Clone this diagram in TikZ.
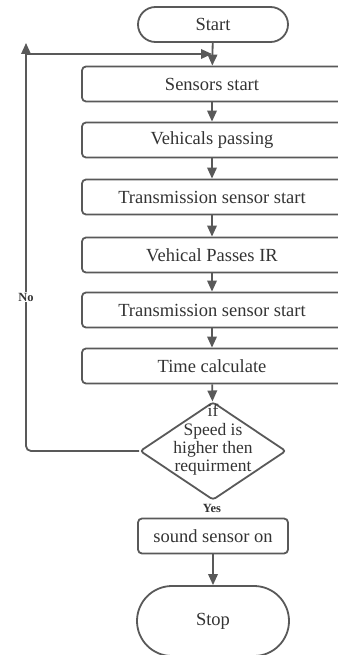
\documentclass[tikz,border=0pt]{standalone}
\usepackage{fontspec}
\setmainfont{Liberation Serif}
\usetikzlibrary{arrows.meta,shapes.geometric}

\definecolor{linegray}{HTML}{595959}
\definecolor{textgray}{HTML}{333333}

\tikzset{
    process/.style={draw=linegray, line width=1.8pt, rounded corners=4pt,
        minimum width=260pt, minimum height=35pt, inner sep=0pt,
        text=textgray, font=\fontsize{18.5}{20}\selectfont},
    terminal/.style={draw=linegray, line width=1.8pt, inner sep=0pt,
        text=textgray, font=\fontsize{18.5}{20}\selectfont},
    decision/.style={draw=linegray, line width=1.8pt, diamond, aspect=1.49,
        minimum width=146pt, minimum height=98pt, inner sep=0pt,
        rounded corners=3pt},
    flowlabel/.style={fill=white, inner sep=1pt, text=textgray,
        font=\fontsize{12.5}{13}\selectfont\bfseries},
    flow/.style={draw=linegray, line width=1.8pt,
        -{Triangle[length=11pt,width=9.5pt]}}
}

\begin{document}
\begin{tikzpicture}[x=1pt, y=-1pt]
    \useasboundingbox (0,0) rectangle (337,655);

    % Nodes
    \node[terminal, minimum width=150pt, minimum height=35pt, rounded corners=17.5pt] (start) at (213,24.5) {Start};
    \node[process] (sensors) at (212,84) {Sensors start};
    \node[process] (passing) at (212,140) {Vehicals passing};
    \node[process] (trans1) at (212,197) {Transmission sensor start};
    \node[process] (passir) at (212,255) {Vehical Passes IR};
    \node[process] (trans2) at (212,310) {Transmission sensor start};
    \node[process] (timecalc) at (212,366) {Time calculate};
    \node[decision] (speed) at (213,451) {};
    \node[align=center, inner sep=0pt, text=textgray, font=\fontsize{17.5}{18.3}\selectfont] (speedtext) at (213,440) {if\\Speed is\\higher then\\requirment};
    \node[flowlabel] (yes) at (212,508) {Yes};
    \node[process, minimum width=150pt] (sound) at (213,536) {sound sensor on};
    \node[terminal, minimum width=152pt, minimum height=70pt, rounded corners=35pt] (stop) at (213,621) {Stop};

    \coordinate (looptop) at (26,43);
    \coordinate (loopjoin) at (26,54);
    \coordinate (merge) at (212,54);

    % Edges
    \draw[flow] (start) -- (sensors);
    \draw[flow] (sensors) -- (passing);
    \draw[flow] (passing) -- (trans1);
    \draw[flow] (trans1) -- (passir);
    \draw[flow] (passir) -- (trans2);
    \draw[flow] (trans2) -- (timecalc);
    \draw[flow] (timecalc) -- (speed);
    \draw[flow] (sound) -- (stop);
    \draw[flow, rounded corners=5pt] (speed.west) -| (looptop);
    \draw[flow] (loopjoin) -- (merge);
    \node[flowlabel] (no) at (26,297) {No};
\end{tikzpicture}
\end{document}
